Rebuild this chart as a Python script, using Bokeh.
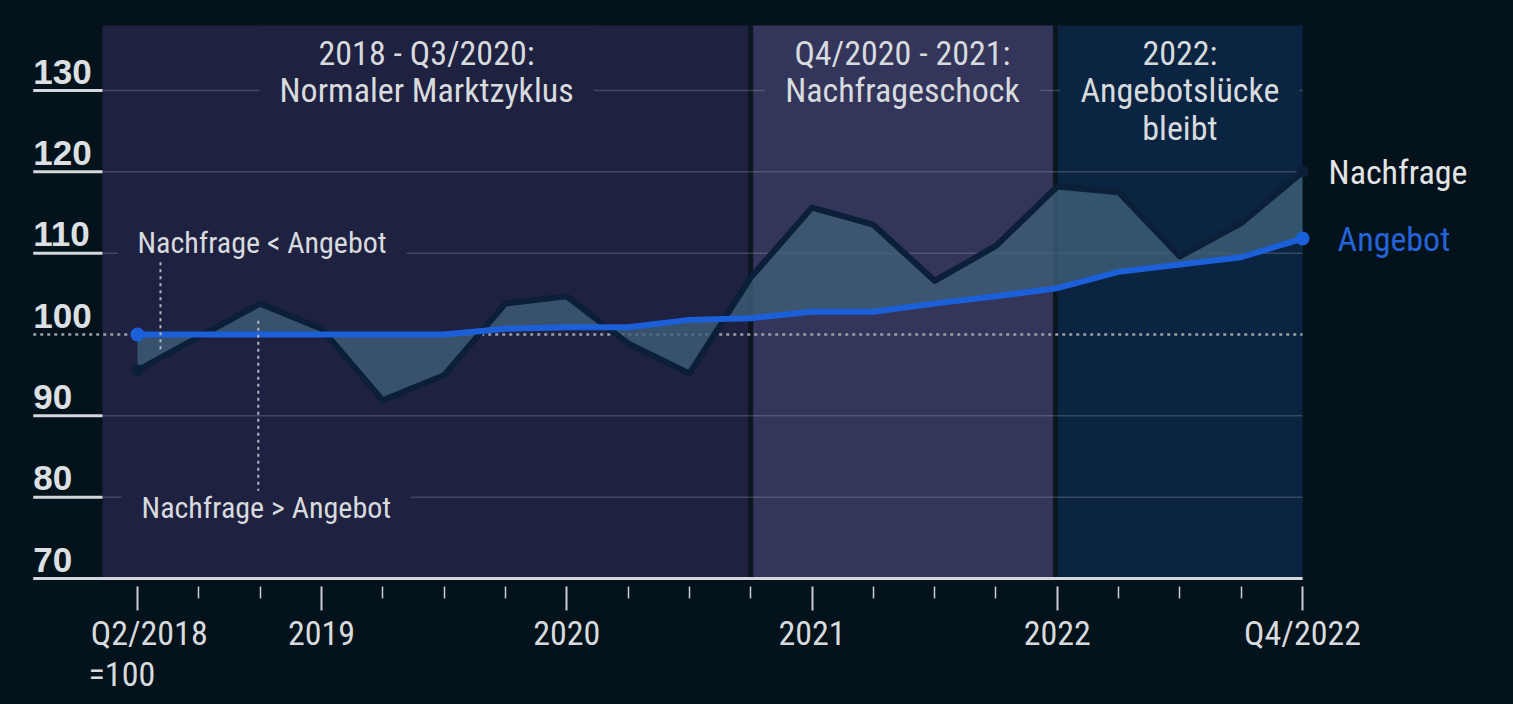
from bokeh.plotting import figure
from bokeh.models import Range1d, FixedTicker, Label
from bokeh.core.properties import value
from bokeh.embed import file_html
from bokeh.resources import INLINE

# quarterly index, Q2/2018 = 0
quarters = list(range(20))
nachfrage = [95.6, 99.7, 103.8, 100.7, 91.9, 95.0, 103.8, 104.7, 98.9, 95.2,
             107.0, 115.6, 113.5, 106.6, 110.9, 118.2, 117.5, 109.6, 113.7, 120.0]
angebot = [100.0, 100.0, 100.0, 100.0, 100.0, 100.0, 100.7, 100.9, 100.9, 101.8,
           102.0, 102.8, 102.8, 103.8, 104.7, 105.7, 107.7, 108.6, 109.5, 111.8]

x_major = [0, 3, 7, 11, 15, 19]
x_labels = ["\u00a0\u00a0\u00a0Q2/2018\n=100\u00a0\u00a0\u00a0\u00a0",
            "2019", "2020", "2021", "2022", "Q4/2022"]

y_ticks = [70, 80, 90, 100, 110, 120, 130]
grid_levels = [80, 90, 110, 120, 130]

period_start = [-0.57, 10.0, 15.0]
period_end = [10.0, 14.95, 19.0]
period_titles = ["2018 - Q3/2020:\nNormaler Marktzyklus",
                 "Q4/2020 - 2021:\nNachfrageschock",
                 "2022:\nAngebotslücke\nbleibt"]
period_colors = ["#1f2141", "#33355a", "#0a2441"]

BG = "#03121b"
TXT = "#d8dbde"
COND = "Roboto Condensed"
x_left = -1.70

p = figure(width=1513, height=704, output_backend="svg", toolbar_location=None,
           x_range=Range1d(-2.234, 22.44), y_range=Range1d(69.016, 141.07),
           y_axis_location=None, min_border_left=0, min_border_right=0,
           min_border_top=0, min_border_bottom=118)
p.background_fill_color = BG
p.border_fill_color = BG
p.outline_line_color = None
p.xgrid.visible = False
p.ygrid.visible = False

# period backgrounds
p.quad(left=period_start, right=period_end, bottom=70, top=138,
       fill_color=period_colors, line_color=None)
p.segment(x0=[10.0, 14.97], x1=[10.0, 14.97], y0=70, y1=138,
          line_color="#0a1620", line_width=5)

# grid lines
p.segment(x0=period_start[0], x1=period_end[-1], y0=grid_levels, y1=grid_levels,
          line_color="#9aa0b0", line_alpha=0.3, line_width=1.5)
p.segment(x0=x_left, x1=period_start[0], y0=grid_levels, y1=grid_levels,
          line_color="#d4d8dc", line_width=3)
p.segment(x0=x_left, x1=period_end[-1], y0=100, y1=100,
          line_color="#9aa0a8", line_width=2.5, line_dash="3 4")
p.segment(x0=x_left, x1=period_end[-1], y0=70, y1=70,
          line_color="#d4d8dc", line_width=3)

# gap between the two series
p.varea(x=quarters, y1=angebot, y2=nachfrage, fill_color="#3f5f78", fill_alpha=0.8)
p.line(quarters, nachfrage, line_color="#0b1f38", line_width=6, line_join="round")
p.line(quarters, angebot, line_color="#1b5fd9", line_width=6, line_join="round")
p.scatter([quarters[0], quarters[-1]], [nachfrage[0], nachfrage[-1]], size=12,
          fill_color="#0b1f38", line_color=None)
p.scatter([quarters[0], quarters[-1]], [angebot[0], angebot[-1]], size=14,
          fill_color="#1b5fd9", line_color=None)

# pointers for the annotations
ptr = p.segment(x0=[0.375, 1.97], x1=[0.375, 1.97], y0=[108.9, 101.7], y1=[98.0, 80.8],
                line_color="#b4b8c0", line_width=2, line_dash="3 4")
ptr.level = "overlay"

# y tick labels, sitting just above their grid line
p.text(x=x_left, y=[v + 2.3 for v in y_ticks], text=[str(v) for v in y_ticks],
       text_font=value("Liberation Sans"), text_font_style="bold", text_font_size="35px",
       text_color="#dde0e3", text_align="left", text_baseline="middle")

# series labels
p.text(x=[quarters[-1]], y=[nachfrage[-1]], text=["Nachfrage"], text_font=value(COND),
       text_font_size="34px", text_color="#e2e4e6", text_baseline="middle", x_offset=26)
p.text(x=[quarters[-1]], y=[angebot[-1]], text=["Angebot"], text_font=value(COND),
       text_font_size="34px", text_color="#2563d9", text_baseline="middle", x_offset=35)

# period titles
pad = dict(top=3, bottom=3, left=20, right=20)
for s, e, t, c in zip(period_start, period_end, period_titles, period_colors):
    p.add_layout(Label(x=(s + e) / 2, y=137.5, text=t, text_align="center",
                       text_baseline="top", text_font=COND, text_font_size="34px",
                       text_color=TXT, text_line_height=0.94,
                       background_fill_color=c, padding=pad))

p.add_layout(Label(x=-0.326, y=111.3, text="Nachfrage < Angebot", text_align="left",
                   text_baseline="middle", text_font=COND, text_font_size="30px",
                   text_color=TXT, background_fill_color=period_colors[0], padding=pad))
p.add_layout(Label(x=-0.26, y=78.7, text="Nachfrage > Angebot", text_align="left",
                   text_baseline="middle", text_font=COND, text_font_size="30px",
                   text_color=TXT, background_fill_color=period_colors[0], padding=pad))

# x axis
ax = p.xaxis[0]
ax.ticker = FixedTicker(ticks=x_major, minor_ticks=[q for q in quarters if q not in x_major])
ax.major_label_overrides = dict(zip(x_major, x_labels))
ax.axis_line_color = None
ax.major_tick_line_color = "#c9cdd1"
ax.major_tick_line_width = 2
ax.major_tick_in = 0
ax.major_tick_out = 24
ax.minor_tick_line_color = "#c9cdd1"
ax.minor_tick_line_width = 1.5
ax.minor_tick_in = 0
ax.minor_tick_out = 12
ax.major_label_standoff = 2
ax.major_label_text_font = COND
ax.major_label_text_font_size = "34px"
ax.major_label_text_color = TXT
ax.major_label_text_line_height = 1.03

template = """
{% block preamble %}
<style>body { background: #03121b; }</style>
{% endblock %}
"""

open("out.html", "w").write(file_html(p, INLINE, "Nachfrage und Angebot", template=template))
